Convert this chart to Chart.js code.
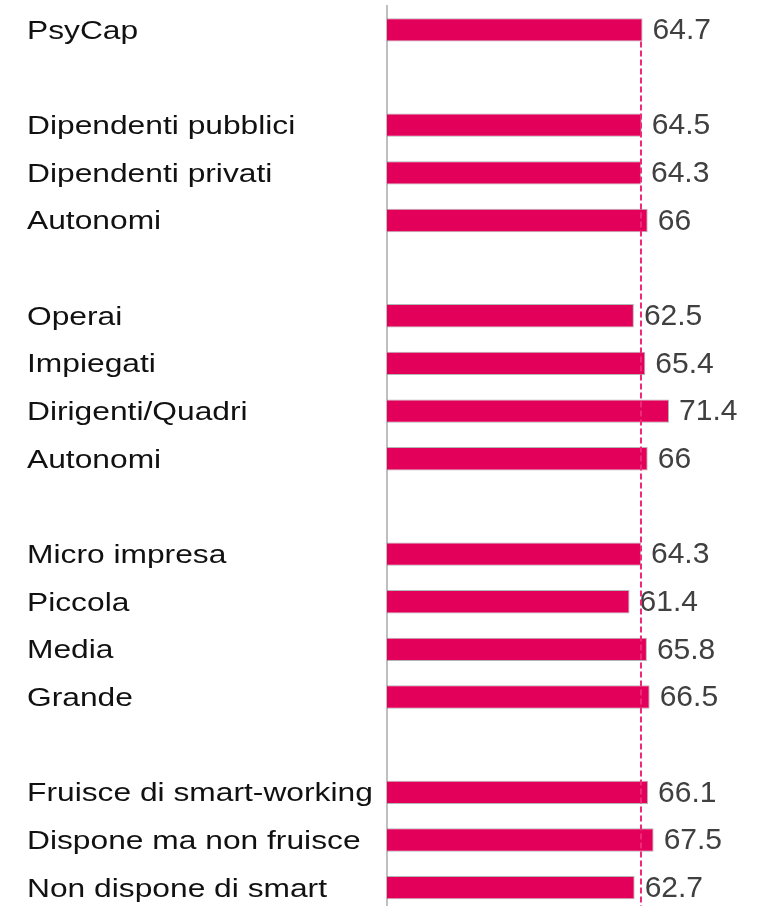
<!DOCTYPE html>
<html>
<head>
  <title>PsyCap per gruppo</title>
  <script src="https://cdn.jsdelivr.net/npm/chart.js"></script>
  <style>
    html, body {
      margin: 0;
      padding: 0;
      background: #fff;
      overflow: hidden;
    }
    #wrap {
      position: relative;
      width: 770px;
      height: 917px;
    }
  </style>
</head>
<body>
  <div id="wrap"><canvas id="barChart"></canvas></div>

  <script>
    // rows of the chart, '' = empty spacer row between groups
    const groupLabels = [
      'PsyCap',
      '',
      'Dipendenti pubblici', 'Dipendenti privati', 'Autonomi',
      '',
      'Operai', 'Impiegati', 'Dirigenti/Quadri', 'Autonomi',
      '',
      'Micro impresa', 'Piccola', 'Media', 'Grande',
      '',
      'Fruisce di smart-working', 'Dispone ma non fruisce', 'Non dispone di smart'
    ];
    const scores = [
      64.7,
      null,
      64.5, 64.3, 66,
      null,
      62.5, 65.4, 71.4, 66,
      null,
      64.3, 61.4, 65.8, 66.5,
      null,
      66.1, 67.5, 62.7
    ];
    const refScore = 64.3;   // dashed reference line
    const xMin = 0;
    const xMax = 90;

    const barColor = '#e2005a';

    // the category labels in the picture are drawn wide, so stretch the y tick labels
    const wideLabels = {
      id: 'wideLabels',
      afterUpdate(chart) {
        const y = chart.scales.y;
        if (y._wide) return;
        const orig = y.drawLabels;
        y.drawLabels = function(area) {
          const c = this.ctx;
          c.save();
          c.translate(this.left, 2);
          c.scale(1.27, 1);
          c.translate(-this.left, 0);
          orig.call(this, area);
          c.restore();
        };
        y._wide = true;
      }
    };

    // value labels at the end of each bar
    const valueLabels = {
      id: 'valueLabels',
      afterDatasetsDraw(chart) {
        const ctx = chart.ctx;
        const meta = chart.getDatasetMeta(0);
        ctx.save();
        ctx.font = '30px "Liberation Sans", Arial, sans-serif';
        ctx.fillStyle = '#404040';
        ctx.textAlign = 'left';
        ctx.textBaseline = 'middle';
        meta.data.forEach((bar, i) => {
          if (scores[i] === null) return;
          ctx.fillText(String(scores[i]), bar.x + 10, bar.y + 1);
        });
        ctx.restore();
      }
    };

    // dashed reference line, from under the first bar down
    const refLine = {
      id: 'refLine',
      afterDatasetsDraw(chart) {
        const ctx = chart.ctx;
        const x = chart.scales.x.getPixelForValue(refScore);
        const first = chart.getDatasetMeta(0).data[0];
        ctx.save();
        ctx.strokeStyle = '#ee2a78';
        ctx.lineWidth = 2;
        ctx.setLineDash([6, 3]);
        ctx.beginPath();
        ctx.moveTo(x, first.y + first.height / 2);
        ctx.lineTo(x, chart.chartArea.bottom);
        ctx.stroke();
        ctx.restore();
      }
    };

    const ctx = document.getElementById('barChart').getContext('2d');
    new Chart(ctx, {
      type: 'bar',
      data: {
        labels: groupLabels,
        datasets: [{
          data: scores,
          backgroundColor: barColor,
          borderColor: 'rgba(120,120,120,0.55)',
          borderWidth: 1,
          borderSkipped: 'left',
          categoryPercentage: 1,
          barPercentage: 0.49
        }]
      },
      options: {
        indexAxis: 'y',
        responsive: true,
        maintainAspectRatio: false,
        animation: false,
        layout: { padding: { left: 27, right: 27.5, top: 6, bottom: 0 } },
        plugins: {
          legend: { display: false },
          tooltip: { enabled: false }
        },
        scales: {
          x: {
            display: false,
            min: xMin,
            max: xMax
          },
          y: {
            grid: { display: false },
            border: { display: true, color: '#bfbfbf', width: 2 },
            ticks: {
              autoSkip: false,
              crossAlign: 'far',
              color: '#111',
              // small lineHeight keeps the axis from adding top/bottom padding
              font: { family: '"Liberation Sans", Arial, sans-serif', size: 25, lineHeight: 0.2 }
            },
            afterFit(scale) { scale.width = 360; }
          }
        }
      },
      plugins: [wideLabels, valueLabels, refLine]
    });
  </script>
</body>
</html>
